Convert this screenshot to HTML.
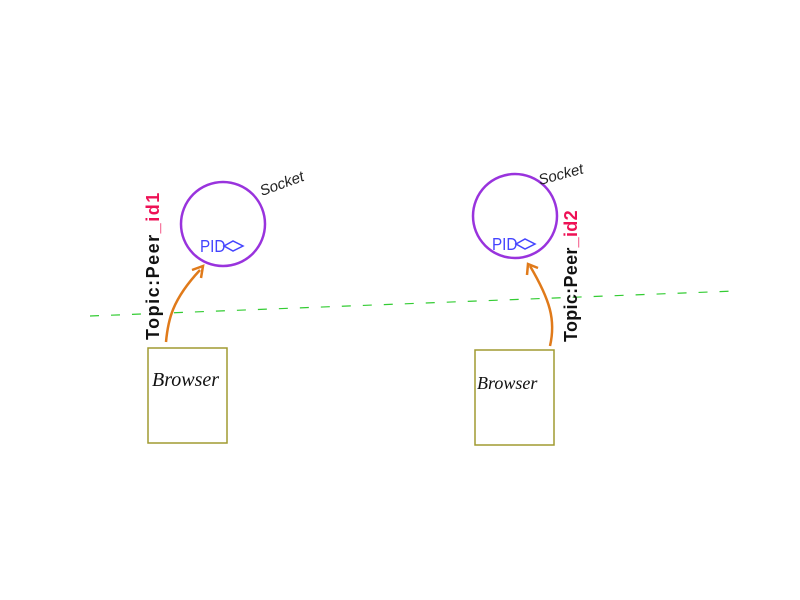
<!DOCTYPE html>
<html><head><style>body{margin:0;background:#fff}svg{display:block}</style></head><body>
<svg width="800" height="600" xmlns="http://www.w3.org/2000/svg" font-family="Liberation Sans, sans-serif">
<rect width="800" height="600" fill="#fff"/>
<line x1="90" y1="316" x2="735" y2="291" stroke="#3c3" stroke-width="1.2" stroke-dasharray="9,12"/>
<circle cx="223" cy="224" r="42" fill="none" stroke="#9933dd" stroke-width="2.5"/>
<circle cx="515" cy="216" r="42" fill="none" stroke="#9933dd" stroke-width="2.5"/>
<text x="200" y="252" font-size="18" fill="#4444ff" transform="translate(200 0) scale(0.85 1) translate(-200 0)">PID</text>
<path d="M224 246 L233 241 L243 246 L233 251 Z" fill="none" stroke="#4444ff" stroke-width="1.5"/>
<text x="492" y="250" font-size="18" fill="#4444ff" transform="translate(492 0) scale(0.85 1) translate(-492 0)">PID</text>
<path d="M516 244 L525 239 L535 244 L525 249 Z" fill="none" stroke="#4444ff" stroke-width="1.5"/>
<text x="262" y="196" font-size="15" fill="#222" font-style="italic" transform="rotate(-20 262 196)">Socket</text>
<text x="540" y="185" font-size="15" fill="#222" font-style="italic" transform="rotate(-15 540 185)">Socket</text>
<text transform="translate(159 340) rotate(-90)" font-size="18" font-weight="bold" letter-spacing="1.5"><tspan fill="#111">Topic:Peer</tspan><tspan fill="#ee1155">_id1</tspan></text>
<text transform="translate(577 342) rotate(-90)" font-size="18" font-weight="bold" letter-spacing="0.3"><tspan fill="#111">Topic:Peer</tspan><tspan fill="#ee1155">_id2</tspan></text>
<path d="M166 342 C168 320 172 300 200 270" fill="none" stroke="#e07a1a" stroke-width="2.5"/>
<path d="M192 270 L203 266 L201 278" fill="none" stroke="#e07a1a" stroke-width="2.5"/>
<path d="M550 346 C556 320 550 300 530 266" fill="none" stroke="#e07a1a" stroke-width="2.5"/>
<path d="M527 275 L528 264 L538 268" fill="none" stroke="#e07a1a" stroke-width="2.5"/>
<rect x="148" y="348" width="79" height="95" fill="none" stroke="#a09a30" stroke-width="1.5"/>
<rect x="475" y="350" width="79" height="95" fill="none" stroke="#a09a30" stroke-width="1.5"/>
<text x="152" y="386" font-size="20" fill="#111" font-style="italic" font-family="Liberation Serif, serif">Browser</text>
<text x="477" y="389" font-size="18" fill="#111" font-style="italic" font-family="Liberation Serif, serif">Browser</text>
</svg>
</body></html>
